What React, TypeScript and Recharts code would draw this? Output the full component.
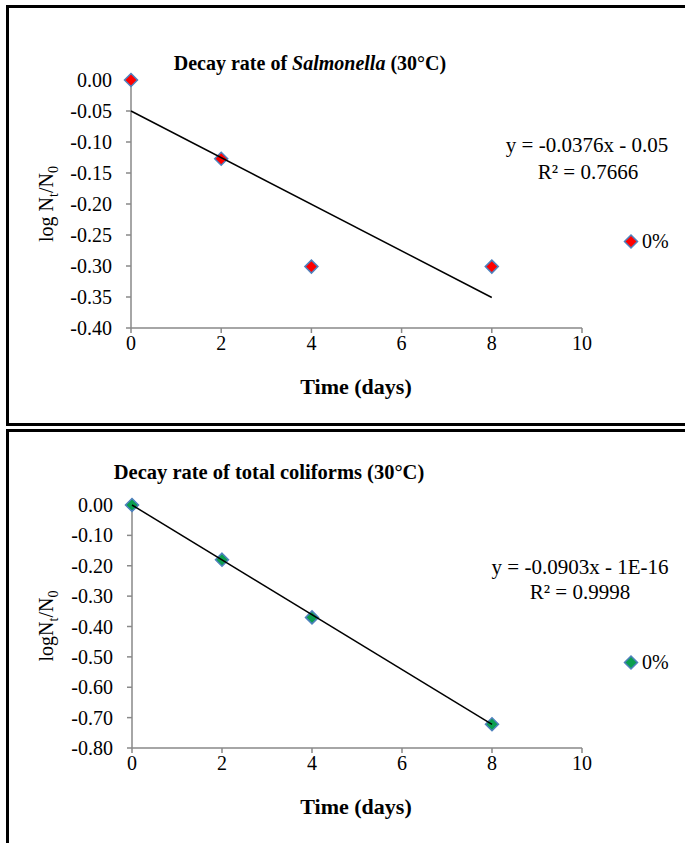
import React from 'react';
import { ScatterChart, Scatter, XAxis, YAxis } from 'recharts';

const days = [0, 2, 4, 8];
const salmonellaLog = [0, -0.127, -0.301, -0.301];
const coliformLog = [0, -0.18, -0.37, -0.722];
const salmonellaTrendX = [0, 8];
const salmonellaTrendY = [-0.05, -0.3508];
const coliformTrendX = [0, 8];
const coliformTrendY = [0, -0.7224];
const xTicks = [0, 2, 4, 6, 8, 10];
const yTicksTop = [0, -0.05, -0.1, -0.15, -0.2, -0.25, -0.3, -0.35, -0.4];
const yTicksBottom = [0, -0.1, -0.2, -0.3, -0.4, -0.5, -0.6, -0.7, -0.8];
const salmonellaEquation = 'y = -0.0376x - 0.05';
const salmonellaR2 = 'R² = 0.7666';
const coliformEquation = 'y = -0.0903x - 1E-16';
const coliformR2 = 'R² = 0.9998';
const seriesName = '0%';

const FONT = "'Liberation Serif', 'Times New Roman', serif";
const AXIS = '#898989';
const EDGE = '#4F81BD';
const RED = '#FF0000';
const GREEN = '#0B9E4F';

const zip = (xs: number[], ys: number[]) => xs.map((x, i) => ({ x, y: ys[i] }));
const salmonellaData = zip(days, salmonellaLog);
const coliformData = zip(days, coliformLog);
const salmonellaTrend = zip(salmonellaTrendX, salmonellaTrendY);
const coliformTrend = zip(coliformTrendX, coliformTrendY);

const fmt = (v: number) => (Math.abs(v) < 1e-9 ? '0.00' : v.toFixed(2));

const diamondShape = (fill: string) => (props: any) => {
  const { cx, cy } = props;
  const r = 6.5;
  return (
    <polygon
      points={`${cx},${cy - r} ${cx + r},${cy} ${cx},${cy + r} ${cx - r},${cy}`}
      fill={fill}
      stroke={EDGE}
      strokeWidth={1.5}
    />
  );
};

const noShape = () => <g />;

const tickStyle = { fill: '#000', fontSize: 20, fontFamily: FONT };

const abs = (left: number, top: number, extra: React.CSSProperties = {}): React.CSSProperties => ({
  position: 'absolute',
  left,
  top,
  transform: 'translate(-50%, -50%)',
  whiteSpace: 'nowrap',
  fontFamily: FONT,
  color: '#000',
  ...extra,
});

const LegendItem = ({ left, top, fill }: { left: number; top: number; fill: string }) => (
  <div style={{ position: 'absolute', left, top, transform: 'translateY(-50%)', display: 'flex', alignItems: 'center', fontFamily: FONT, fontSize: 20, whiteSpace: 'nowrap' }}>
    <svg width={16} height={16} style={{ marginRight: 3 }}>
      <polygon points="8,1.5 14.5,8 8,14.5 1.5,8" fill={fill} stroke={EDGE} strokeWidth={1.5} />
    </svg>
    <span>{seriesName}</span>
  </div>
);

export default function App() {
  return (
    <div style={{ position: 'absolute', left: 0, top: 0, width: 685, height: 843, overflow: 'hidden', background: '#fff' }}>
      {/* panel borders */}
      <div style={{ position: 'absolute', left: 6, top: 5, width: 720, height: 421, border: '3px solid #000', boxSizing: 'border-box' }} />
      <div style={{ position: 'absolute', left: 6, top: 429, width: 720, height: 500, border: '3px solid #000', boxSizing: 'border-box' }} />

      {/* top chart */}
      <div style={{ position: 'absolute', left: 0, top: 0 }}>
        <ScatterChart width={685} height={425} margin={{ top: 80, right: 103, bottom: 67, left: 0 }}>
          <XAxis
            type="number"
            dataKey="x"
            domain={[0, 10]}
            ticks={xTicks}
            height={30}
            axisLine={{ stroke: AXIS, strokeWidth: 1.5 }}
            tickLine={{ stroke: AXIS, strokeWidth: 1.5 }}
            tickSize={5}
            tickMargin={3}
            tick={tickStyle}
          />
          <YAxis
            type="number"
            dataKey="y"
            domain={[-0.4, 0]}
            ticks={yTicksTop}
            width={131}
            axisLine={{ stroke: AXIS, strokeWidth: 1.5 }}
            tickLine={{ stroke: AXIS, strokeWidth: 1.5 }}
            tickSize={5}
            tickMargin={14}
            tick={tickStyle}
            tickFormatter={fmt}
            interval={0}
          />
          <Scatter data={salmonellaData} shape={diamondShape(RED)} isAnimationActive={false} />
          <Scatter data={salmonellaTrend} shape={noShape} line={{ stroke: '#000', strokeWidth: 1.5 }} isAnimationActive={false} />
        </ScatterChart>
      </div>

      {/* bottom chart */}
      <div style={{ position: 'absolute', left: 0, top: 430 }}>
        <ScatterChart width={685} height={413} margin={{ top: 75, right: 103, bottom: 65, left: 0 }}>
          <XAxis
            type="number"
            dataKey="x"
            domain={[0, 10]}
            ticks={xTicks}
            height={30}
            axisLine={{ stroke: AXIS, strokeWidth: 1.5 }}
            tickLine={{ stroke: AXIS, strokeWidth: 1.5 }}
            tickSize={5}
            tickMargin={3}
            tick={tickStyle}
          />
          <YAxis
            type="number"
            dataKey="y"
            domain={[-0.8, 0]}
            ticks={yTicksBottom}
            width={132}
            axisLine={{ stroke: AXIS, strokeWidth: 1.5 }}
            tickLine={{ stroke: AXIS, strokeWidth: 1.5 }}
            tickSize={5}
            tickMargin={14}
            tick={tickStyle}
            tickFormatter={fmt}
            interval={0}
          />
          <Scatter data={coliformData} shape={diamondShape(GREEN)} isAnimationActive={false} />
          <Scatter data={coliformTrend} shape={noShape} line={{ stroke: '#000', strokeWidth: 1.5 }} isAnimationActive={false} />
        </ScatterChart>
      </div>

      {/* top texts */}
      <div style={abs(310, 63, { fontSize: 20, fontWeight: 'bold' })}>
        Decay rate of <i>Salmonella</i> (30°C)
      </div>
      <div style={abs(48, 204, { fontSize: 20, transform: 'translate(-50%, -50%) rotate(-90deg)' })}>
        log N<sub style={{ fontSize: 14 }}>t</sub>/N<sub style={{ fontSize: 14 }}>0</sub>
      </div>
      <div style={abs(356, 387, { fontSize: 22, fontWeight: 'bold' })}>Time (days)</div>
      <div style={abs(587, 145, { fontSize: 21 })}>{salmonellaEquation}</div>
      <div style={abs(588, 172, { fontSize: 21 })}>{salmonellaR2}</div>
      <LegendItem left={623} top={241} fill={RED} />

      {/* bottom texts */}
      <div style={abs(269, 472, { fontSize: 20.5, fontWeight: 'bold' })}>
        Decay rate of total coliforms (30°C)
      </div>
      <div style={abs(48, 626, { fontSize: 20, transform: 'translate(-50%, -50%) rotate(-90deg)' })}>
        logN<sub style={{ fontSize: 14 }}>t</sub>/N<sub style={{ fontSize: 14 }}>0</sub>
      </div>
      <div style={abs(356, 807, { fontSize: 22, fontWeight: 'bold' })}>Time (days)</div>
      <div style={abs(580, 567, { fontSize: 21 })}>{coliformEquation}</div>
      <div style={abs(580, 592, { fontSize: 21 })}>{coliformR2}</div>
      <LegendItem left={623} top={662} fill={GREEN} />
    </div>
  );
}
